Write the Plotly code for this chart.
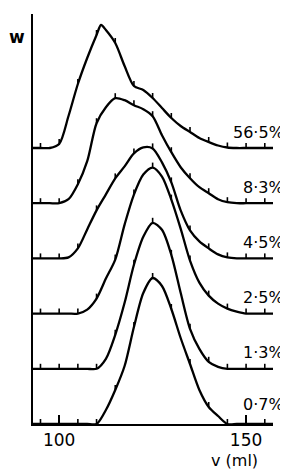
import plotly.graph_objects as go

# elution volume (ml)
v = [93, 95, 97.5, 100, 102.5, 105, 107.5, 110, 112.5, 115, 117.5, 120, 122.5, 125,
     127.5, 130, 132.5, 135, 137.5, 140, 142.5, 145, 147.5, 150, 152.5, 155, 157.2]
v_565 = [93, 95, 97.5, 100, 102.5, 105, 107.5, 110, 111.2, 112.5, 115, 117.5, 120, 122.5, 125,
         127.5, 130, 132.5, 135, 137.5, 140, 142.5, 145, 147.5, 150, 152.5, 155, 157.2]

# w (arbitrary units) for each concentration
w_565 = [0, 0, 0, 4, 32, 64, 90, 113, 123, 118, 105, 82, 62, 58, 50, 40, 30, 22, 16, 10, 6, 2.5, 0.5, 0, 0, 0, 0, 0]
w_83 = [0, 0, 0, 0, 4, 19, 42, 80, 96, 105, 103, 98, 94, 87, 68, 51, 36, 25, 16, 10, 4, 1, 0, 0, 0, 0, 0]
w_45 = [0, 0, 0, 0, 1, 10, 29, 48, 64, 80, 92, 105, 111, 110, 96, 76, 48, 28, 17, 10, 4, 1, 0, 0, 0, 0, 0]
w_25 = [0, 0, 0, 0, 0, 0, 4, 15, 35, 54, 89, 119, 139, 146, 137, 114, 85, 53, 31, 18, 10, 5, 2, 0, 0, 0, 0]
w_13 = [0, 0, 0, 0, 0, 0, 0, 0, 10, 34, 66, 104, 132, 146, 139, 114, 76, 40, 20, 7, 2, 0, 0, 0, 0, 0, 0]
w_07 = [0, 0, 0, 0, 0, 0, 0, 0, 14, 34, 58, 97, 131, 146, 138, 115, 86, 60, 34, 17, 8, 0, 0, 0, 0, 0, 0]

labels = ["0·7%", "1·3%", "2·5%", "4·5%", "8·3%", "56·5%"]
series = [(v, w_07), (v, w_13), (v, w_25), (v, w_45), (v, w_83), (v_565, w_565)]

STEP = 55.2      # vertical shift between successive curves
TICK = 5         # length of the small marks on each curve
FONT = "DejaVu Sans"

fig = go.Figure()
tx, ty = [], []
for i, (xs, ws) in enumerate(series):
    off = i * STEP
    ys = [w + off for w in ws]
    fig.add_trace(go.Scatter(x=xs, y=ys, mode="lines",
                             line=dict(color="black", width=2.3, shape="spline", smoothing=0.8),
                             cliponaxis=False, hoverinfo="skip", showlegend=False))
    for xv, yv in zip(xs, ys):
        if abs(xv / 5 - round(xv / 5)) < 1e-9:
            tx += [xv, xv, None]
            ty += [yv, yv + TICK, None]
fig.add_trace(go.Scatter(x=tx, y=ty, mode="lines", line=dict(color="black", width=1.6),
                         cliponaxis=False, hoverinfo="skip", showlegend=False))

for i, lab in enumerate(labels):
    fig.add_annotation(x=1.055, xref="paper", y=i * STEP, yref="y", text=lab,
                       xanchor="right", yanchor="middle", yshift=20 if i == 0 else 16,
                       showarrow=False, font=dict(family=FONT, size=16, color="black"))

fig.add_annotation(x=-0.067, xref="paper", y=0.944, yref="paper", text="<b>w</b>",
                   showarrow=False, xanchor="center", yanchor="middle",
                   font=dict(family=FONT, size=17, color="black"))
fig.add_annotation(x=0.8375, xref="paper", y=-0.088, yref="paper", text="v (ml)",
                   showarrow=False, xanchor="center", yanchor="middle",
                   font=dict(family=FONT, size=16, color="black"))

fig.update_xaxes(range=[93, 157.2], showline=True, linewidth=2, linecolor="black",
                 ticks="inside", tickvals=[100, 150], ticktext=["100", "150"],
                 ticklen=9, tickwidth=2, tickcolor="black",
                 showgrid=False, zeroline=False,
                 tickfont=dict(family=FONT, size=17, color="black"))
fig.update_yaxes(range=[0, 410], showline=True, linewidth=2, linecolor="black",
                 showticklabels=False, ticks="", showgrid=False, zeroline=False)

# page body has an 8 px margin, so the figure is 8 px smaller and margins compensate
fig.update_layout(width=280, height=463, margin=dict(l=25, r=15, t=6, b=47),
                  paper_bgcolor="white", plot_bgcolor="white")

fig.write_html("out.html")
